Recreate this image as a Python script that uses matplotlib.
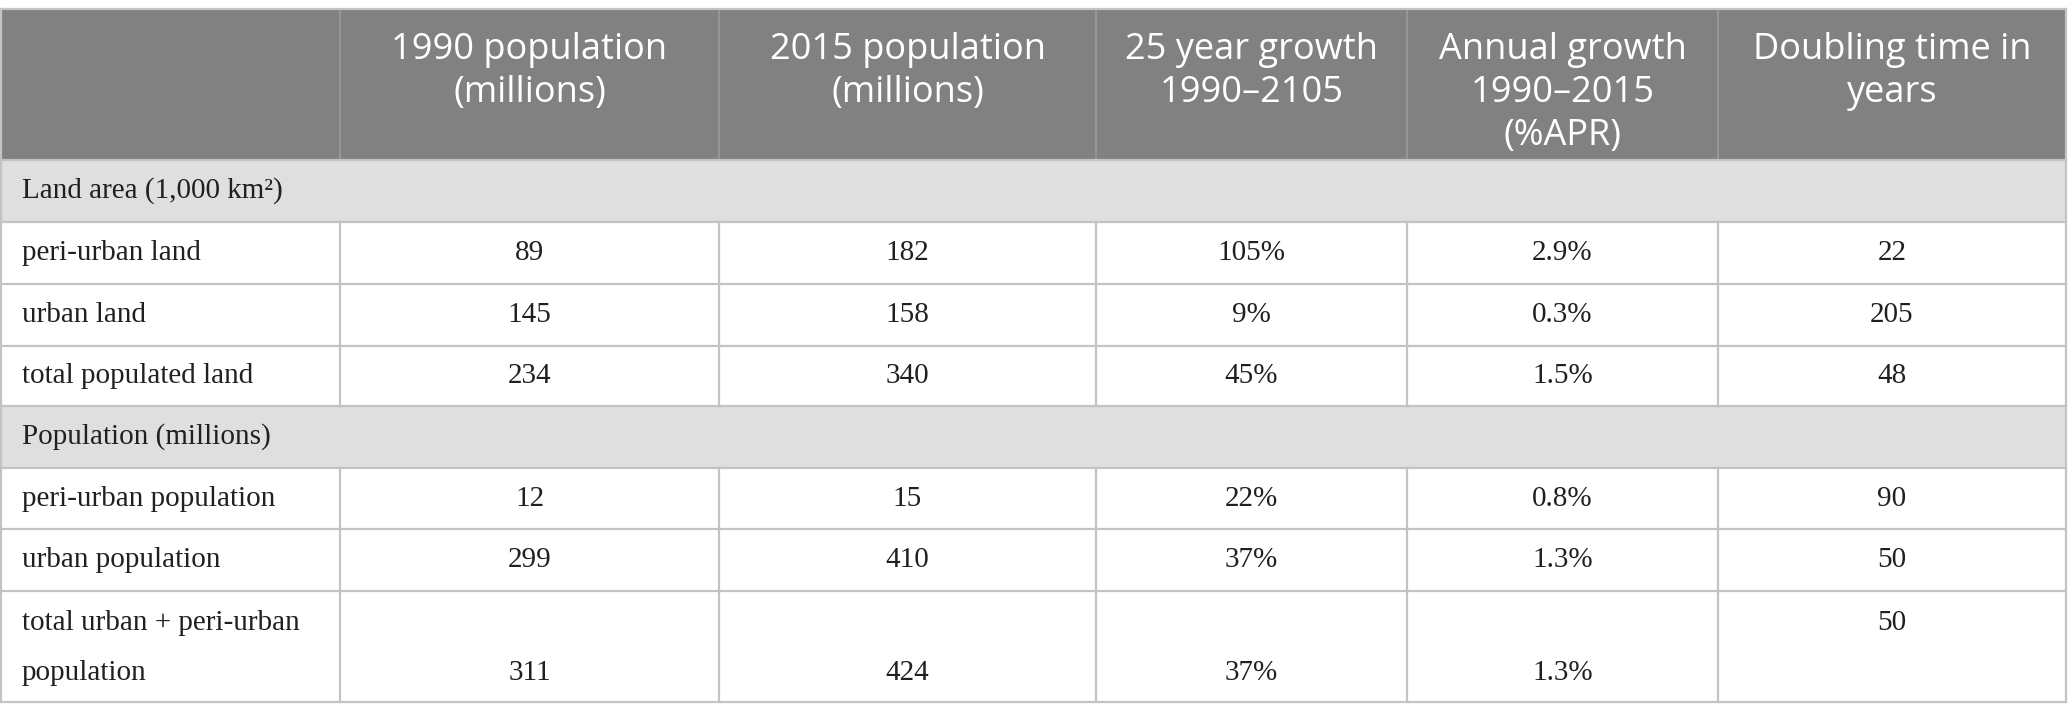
import matplotlib.pyplot as plt
from matplotlib.patches import Rectangle

# table content
header = [
    [],
    ["1990 population", "(millions)"],
    ["2015 population", "(millions)"],
    ["25 year growth", "1990\u20132105"],
    ["Annual growth", "1990\u20132015", "(%APR)"],
    ["Doubling time in", "years"],
]
sections = ["Land area (1,000 km\u00b2)", "Population (millions)"]
land_labels = ["peri-urban land", "urban land", "total populated land"]
land_1990 = ["89", "145", "234"]
land_2015 = ["182", "158", "340"]
land_growth25 = ["105%", "9%", "45%"]
land_annual = ["2.9%", "0.3%", "1.5%"]
land_doubling = ["22", "205", "48"]
pop_labels = ["peri-urban population", "urban population", "total urban + peri-urban\npopulation"]
pop_1990 = ["12", "299", "311"]
pop_2015 = ["15", "410", "424"]
pop_growth25 = ["22%", "37%", "37%"]
pop_annual = ["0.8%", "1.3%", "1.3%"]
pop_doubling = ["90", "50", "50"]

HEAD_BG = "#808180"
SECT_BG = "#e0dfe0"
LINE = "#c3c3c3"
TXT = "#231f20"

col_x = [0, 340, 719, 1096, 1407, 1718, 2066]
row_y = [9, 160, 222, 284, 346, 406, 468, 529, 591, 702]

fig = plt.figure(figsize=(20.68, 7.2), dpi=100)
ax = fig.add_axes([0, 0, 1, 1])
ax.set_xlim(0, 2068)
ax.set_ylim(720, 0)
ax.axis("off")

sans = dict(family=["Open Sans", "DejaVu Sans"])
serif = dict(family=["Liberation Serif", "DejaVu Serif"])

# header
ax.add_patch(Rectangle((col_x[0], row_y[0]), col_x[-1] - col_x[0], row_y[1] - row_y[0],
                       facecolor=HEAD_BG, edgecolor="none"))
for i, lines in enumerate(header):
    cx = (col_x[i] + col_x[i + 1]) / 2
    for k, s in enumerate(lines):
        ax.text(cx, 50 + 43 * k, s, ha="center", va="center", color="white",
                fontsize=26, **sans)
for x in col_x[1:-1]:
    ax.plot([x, x], [row_y[0], row_y[1]], color="#9a9a9a", lw=1.2)

# section rows
for sy in (row_y[1], row_y[5]):
    ax.add_patch(Rectangle((col_x[0], sy), col_x[-1] - col_x[0], 62,
                           facecolor=SECT_BG, edgecolor="none"))

ax.text(22, (row_y[1] + row_y[2]) / 2, sections[0], ha="left", va="center",
        color=TXT, fontsize=21, **serif)
ax.text(22, (row_y[5] + row_y[6]) / 2, sections[1], ha="left", va="center",
        color=TXT, fontsize=21, **serif)


def draw_block(labels, cols, top_idx):
    for r, lab in enumerate(labels):
        y0, y1 = row_y[top_idx + r], row_y[top_idx + r + 1]
        cy = (y0 + y1) / 2
        two = "\n" in lab
        if two:
            l1, l2 = lab.split("\n")
            ax.text(22, y0 + 32, l1, ha="left", va="center", color=TXT, fontsize=21, **serif)
            ax.text(22, y0 + 82, l2, ha="left", va="center", color=TXT, fontsize=21, **serif)
        else:
            ax.text(22, cy, lab, ha="left", va="center", color=TXT, fontsize=21, **serif)
        for c, vals in enumerate(cols):
            cx = (col_x[c + 1] + col_x[c + 2]) / 2
            if two:
                vy = y0 + 32 if c == len(cols) - 1 else y0 + 82
            else:
                vy = cy
            ax.text(cx, vy, vals[r], ha="center", va="center", color=TXT,
                    fontsize=21, **serif)


draw_block(land_labels, [land_1990, land_2015, land_growth25, land_annual, land_doubling], 2)
draw_block(pop_labels, [pop_1990, pop_2015, pop_growth25, pop_annual, pop_doubling], 6)

# grid lines
for y in row_y[1:]:
    ax.plot([col_x[0], col_x[-1]], [y, y], color=LINE, lw=1.6)
ax.plot([col_x[0], col_x[-1]], [row_y[0], row_y[0]], color=LINE, lw=1.6)
for y0, y1 in ((row_y[2], row_y[5]), (row_y[6], row_y[9])):
    for x in col_x[1:-1]:
        ax.plot([x, x], [y0, y1], color=LINE, lw=1.6)
for x in (col_x[0] + 1, col_x[-1]):
    ax.plot([x, x], [row_y[0], row_y[-1]], color=LINE, lw=1.6)

fig.savefig("out.png", dpi=100)
